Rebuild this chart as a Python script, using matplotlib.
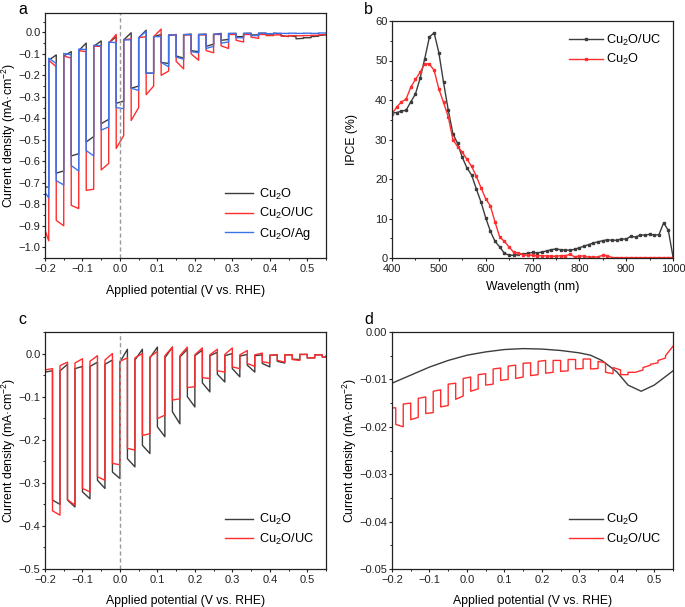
import numpy as np
import matplotlib
matplotlib.use("Agg")
import matplotlib.pyplot as plt
from matplotlib.ticker import MultipleLocator, FuncFormatter

plt.rcParams['font.family'] = ['Liberation Sans', 'DejaVu Sans']
plt.rcParams['mathtext.fontset'] = 'custom'
plt.rcParams['mathtext.rm'] = 'Liberation Sans'
plt.rcParams['mathtext.it'] = 'Liberation Sans:italic'
plt.rcParams['mathtext.default'] = 'regular'

C_BLACK = '#3c3c3c'
C_RED = '#ff2d2d'
C_BLUE = '#3f72ea'

# ---------------- Panel a: chopped LSV (Cu2O, Cu2O/UC, Cu2O/Ag) ----------------
a_chop_on = [-0.21, -0.17, -0.13, -0.09, -0.05, -0.01, 0.03, 0.07, 0.11, 0.15,
             0.19, 0.23, 0.27, 0.31, 0.35, 0.39, 0.43, 0.47, 0.51]
a_cu2o_light_s = [-0.72, -0.655, -0.575, -0.51, -0.425, -0.33, -0.26, -0.19, -0.14, -0.11,
                  -0.085, -0.065, -0.037, -0.02, -0.012, -0.008, -0.015, -0.03, -0.02]
a_cu2o_light_e = [-0.72, -0.645, -0.565, -0.485, -0.405, -0.32, -0.25, -0.19, -0.145, -0.12,
                  -0.09, -0.055, -0.033, -0.02, -0.012, -0.008, -0.02, -0.028, -0.018]
a_cu2o_dark_s = [-0.13, -0.11, -0.085, -0.065, -0.05, -0.035, -0.025, -0.02, -0.015, -0.012,
                 -0.01, -0.01, -0.006, -0.005, -0.004, -0.004, -0.015, -0.025, -0.015]
a_cu2o_dark_e = [-0.105, -0.09, -0.05, -0.04, -0.02, -0.002, 0.01, -0.01, -0.01, -0.008,
                 -0.008, -0.005, -0.005, -0.004, -0.004, -0.008, -0.02, -0.025, -0.012]

a_uc_light_s = [-0.92, -0.875, -0.805, -0.735, -0.64, -0.54, -0.41, -0.29, -0.2, -0.135,
                -0.1, -0.085, -0.063, -0.037, -0.022, -0.015, -0.018, -0.016, -0.014]
a_uc_light_e = [-0.97, -0.9, -0.82, -0.73, -0.61, -0.48, -0.35, -0.25, -0.18, -0.17,
                -0.13, -0.095, -0.075, -0.045, -0.028, -0.015, -0.018, -0.016, -0.014]
a_uc_dark_s = [-0.13, -0.11, -0.085, -0.065, -0.05, -0.035, -0.025, -0.02, -0.012, -0.012,
               -0.012, -0.01, -0.01, -0.01, -0.01, -0.012, -0.015, -0.015, -0.012]
a_uc_dark_e = [-0.16, -0.12, -0.09, -0.065, -0.01, -0.03, -0.02, 0.015, -0.012, -0.012,
               -0.012, -0.01, -0.01, -0.01, -0.01, -0.012, -0.015, -0.015, -0.01]

a_ag_light_s = [-0.745, -0.69, -0.62, -0.55, -0.455, -0.35, -0.26, -0.19, -0.14, -0.115,
                -0.09, -0.075, -0.05, -0.025, -0.015, -0.006, -0.005, -0.005, -0.005]
a_ag_light_e = [-0.77, -0.71, -0.645, -0.575, -0.44, -0.355, -0.27, -0.19, -0.16, -0.125,
                -0.095, -0.065, -0.045, -0.025, -0.015, -0.006, -0.005, -0.005, -0.005]
a_ag_dark_s = [-0.12, -0.098, -0.078, -0.06, -0.045, -0.035, -0.025, -0.02, -0.012, -0.01,
               -0.01, -0.008, -0.005, -0.005, -0.004, -0.004, -0.004, -0.004, -0.003]
a_ag_dark_e = [-0.145, -0.105, -0.08, -0.062, -0.048, -0.035, 0.005, -0.02, -0.012, -0.01,
               -0.01, -0.008, -0.005, -0.005, -0.004, -0.004, -0.004, -0.004, -0.003]

# ---------------- Panel b: IPCE ----------------
wavelength = list(range(400, 1001, 10))
ipce_uc = [36.8, 36.8, 37.2, 37.4, 39.5, 41.5, 45.5, 50.5, 56.0, 57.0,
           52.0, 44.5, 37.5, 31.5, 29.0, 25.5, 22.8, 21.0, 17.5, 14.2,
           10.2, 6.8, 4.2, 2.8, 1.2, 0.7, 0.7, 0.9, 1.0, 1.2,
           1.4, 1.3, 1.5, 1.8, 2.1, 2.3, 2.1, 2.0, 2.0, 2.2,
           2.6, 3.0, 3.4, 3.8, 4.1, 4.4, 4.6, 4.5, 4.5, 4.8,
           4.8, 5.5, 5.3, 5.8, 5.8, 6.0, 5.8, 5.9, 8.9, 7.0, 0.3]
ipce_cu2o = [36.5, 38.2, 39.5, 40.2, 43.2, 45.2, 47.0, 49.2, 49.1, 47.5,
             42.8, 39.4, 35.8, 30.0, 28.2, 26.8, 25.0, 23.2, 20.7, 17.8,
             15.0, 13.2, 9.1, 5.3, 4.2, 2.8, 1.4, 1.3, 0.8, 0.7,
             0.7, 0.6, 0.6, 0.5, 0.5, 0.4, 0.6, 0.6, 0.9, 0.3,
             0.5, 0.5, 0.2, 0.2, 0.3, 0.7, 0.6, 0.1, 0.1, 0.1,
             0.1, 0.1, 0.1, 0.1, 0.1, 0.1, 0.1, 0.1, 0.1, 0.1, 0.1]

# ---------------- Panel c: chopped LSV (Cu2O, Cu2O/UC) ----------------
c_chop_on = [-0.22, -0.18, -0.14, -0.10, -0.06, -0.02, 0.02, 0.06, 0.10, 0.14,
             0.18, 0.22, 0.26, 0.30, 0.34, 0.38, 0.42, 0.46, 0.50, 0.54]
c_cu2o_light_s = [-0.043, -0.34, -0.34, -0.321, -0.294, -0.275, -0.244, -0.213, -0.17, -0.135,
                  -0.10, -0.068, -0.048, -0.035, -0.027, -0.023, -0.018, -0.013, -0.01, -0.008]
c_cu2o_light_e = [-0.043, -0.35, -0.356, -0.337, -0.313, -0.29, -0.263, -0.232, -0.193, -0.163,
                  -0.124, -0.089, -0.066, -0.054, -0.043, -0.031, -0.022, -0.014, -0.01, -0.008]
c_cu2o_dark_s = [-0.043, -0.04, -0.035, -0.03, -0.025, -0.02, -0.015, -0.01, -0.01, -0.008,
                 -0.005, -0.005, -0.005, -0.006, -0.005, -0.004, -0.003, -0.002, -0.003, -0.006]
c_cu2o_dark_e = [-0.04, -0.025, -0.03, -0.02, -0.015, 0.01, 0.01, 0.015, 0.015, 0.01,
                 0.008, 0.003, 0.0, -0.002, -0.003, -0.003, -0.003, -0.002, -0.003, -0.006]

c_uc_light_s = [-0.41, -0.365, -0.339, -0.313, -0.286, -0.255, -0.22, -0.19, -0.151, -0.108,
                -0.079, -0.056, -0.04, -0.031, -0.023, -0.019, -0.016, -0.014, -0.01, -0.008]
c_uc_light_e = [-0.41, -0.375, -0.352, -0.321, -0.294, -0.258, -0.224, -0.186, -0.143, -0.105,
                -0.077, -0.058, -0.043, -0.035, -0.03, -0.022, -0.02, -0.016, -0.01, -0.008]
c_uc_dark_s = [-0.038, -0.028, -0.022, -0.018, -0.015, -0.018, -0.01, -0.008, -0.005, -0.005,
               -0.003, -0.003, -0.002, -0.003, -0.003, -0.004, -0.003, -0.002, -0.003, -0.006]
c_uc_dark_e = [-0.035, -0.02, -0.012, -0.005, 0.0, -0.01, 0.0, 0.005, 0.015, 0.015,
               0.013, 0.01, 0.013, 0.007, 0.001, -0.003, -0.003, -0.002, -0.003, -0.006]

# ---------------- Panel d: dark LSV / weak chopping ----------------
d_cu2o_v = [-0.2, -0.15, -0.1, -0.05, 0.0, 0.05, 0.1, 0.15, 0.2, 0.25,
            0.3, 0.33, 0.36, 0.4, 0.43, 0.465, 0.5, 0.55]
d_cu2o_j = [-0.0108, -0.0091, -0.0074, -0.0060, -0.0049, -0.0042, -0.0037, -0.0035, -0.0036, -0.0039,
            -0.0044, -0.0049, -0.0060, -0.0084, -0.0112, -0.0125, -0.0112, -0.0082]

d_chop_on = [-0.23, -0.19, -0.15, -0.11, -0.07, -0.03, 0.01, 0.05, 0.09, 0.13, 0.17,
             0.21, 0.25, 0.29, 0.33, 0.37, 0.41, 0.45, 0.49, 0.53]
d_uc_light_s = [-0.0160, -0.0195, -0.0185, -0.0172, -0.0158, -0.0142, -0.0125, -0.0112, -0.0102, -0.0098,
                -0.0092, -0.0087, -0.0083, -0.0078, -0.0078, -0.0085, -0.0090, -0.0085, -0.0068, -0.0050]
d_uc_light_e = [-0.0160, -0.0200, -0.0180, -0.0170, -0.0155, -0.0135, -0.0120, -0.0110, -0.0100, -0.0095,
                -0.0090, -0.0085, -0.0082, -0.0077, -0.0077, -0.0088, -0.0090, -0.0080, -0.0065, -0.0030]
d_uc_dark_s = [-0.0160, -0.0152, -0.0140, -0.0125, -0.0110, -0.0098, -0.0090, -0.0078, -0.0072, -0.0066,
               -0.0062, -0.0060, -0.0058, -0.0057, -0.0062, -0.0075, -0.0085, -0.0075, -0.0060, -0.0030]
d_uc_dark_e = [-0.0160, -0.0150, -0.0137, -0.0122, -0.0108, -0.0095, -0.0088, -0.0076, -0.0070, -0.0065,
               -0.0060, -0.0060, -0.0058, -0.0057, -0.0065, -0.0080, -0.0085, -0.0070, -0.0055, -0.0030]

XMIN, XMAX = -0.2, 0.55


def chopped(on_list, ls, le, ds, de, width=0.02, period=0.04):
    xs, ys = [], []
    for k, on in enumerate(on_list):
        x_on = min(max(on, XMIN), XMAX)
        x_off = min(max(on + width, XMIN), XMAX)
        x_next = min(max(on + period, XMIN), XMAX)
        xs += [x_on, x_off, x_off, x_next]
        ys += [ls[k], le[k], ds[k], de[k]]
    return np.array(xs), np.array(ys)


fig = plt.figure(figsize=(6.85, 6.07), dpi=100)
W, H = 685.0, 607.0


def ax_at(l, t, r, b):
    return fig.add_axes([l / W, 1 - b / H, (r - l) / W, (b - t) / H])


ax_a = ax_at(45, 13, 326, 258)
ax_b = ax_at(392, 21, 673, 258)
ax_c = ax_at(45, 332, 326, 569)
ax_d = ax_at(392, 332, 673, 569)

LW = 1.0
FS_TICK = 8
FS_LAB = 8.8
FS_LEG = 9.2


def fmt(dec):
    def f(v, p):
        if abs(v) < 1e-9:
            v = 0.0
        return ('{:.%df}' % dec).format(v).replace('-', '\u2212')
    return FuncFormatter(f)


def style(ax):
    for sp in ax.spines.values():
        sp.set_linewidth(0.9)
        sp.set_color('#222222')
    ax.tick_params(which='both', direction='out', top=False, right=False,
                   labelsize=FS_TICK, colors='#222222')
    ax.tick_params(which='major', length=2.3, width=0.8)
    ax.tick_params(which='minor', length=1.3, width=0.7)
    ax.tick_params(axis='y', which='major', pad=1.0)
    ax.tick_params(axis='x', which='major', pad=2.0)


def place_labels(ax, left_px, ylab_x_px, xlab_y_px, top_px, bottom_px):
    wpx = 281.0
    hpx = bottom_px - top_px
    ax.yaxis.set_label_coords((ylab_x_px - left_px) / wpx, 0.5)
    ax.xaxis.set_label_coords(0.5, -(xlab_y_px - bottom_px) / hpx)
    ax.yaxis.label.set_va('center')
    ax.xaxis.label.set_va('center')


def volt_axes(ax, ylo, yhi, ymaj, ymin, ydec):
    ax.set_xlim(XMIN, XMAX)
    ax.set_ylim(ylo, yhi)
    ax.xaxis.set_major_locator(MultipleLocator(0.1))
    ax.xaxis.set_minor_locator(MultipleLocator(0.05))
    ax.yaxis.set_major_locator(MultipleLocator(ymaj))
    ax.yaxis.set_minor_locator(MultipleLocator(ymin))
    ax.xaxis.set_major_formatter(fmt(1))
    ax.yaxis.set_major_formatter(fmt(ydec))
    style(ax)
    ax.set_xlabel('Applied potential (V vs. RHE)', fontsize=FS_LAB)
    ax.set_ylabel('Current density (mA·cm$^{-2}$)', fontsize=FS_LAB)


# panel a
for (ls, le, ds, de, col, lab) in [
        (a_cu2o_light_s, a_cu2o_light_e, a_cu2o_dark_s, a_cu2o_dark_e, C_BLACK, 'Cu$_2$O'),
        (a_uc_light_s, a_uc_light_e, a_uc_dark_s, a_uc_dark_e, C_RED, 'Cu$_2$O/UC'),
        (a_ag_light_s, a_ag_light_e, a_ag_dark_s, a_ag_dark_e, C_BLUE, 'Cu$_2$O/Ag')]:
    x, y = chopped(a_chop_on, ls, le, ds, de)
    ax_a.plot(x, y, color=col, lw=LW, label=lab)
ax_a.axvline(0, color='#999999', lw=1.0, ls=(0, (3, 2)))
volt_axes(ax_a, -1.05, 0.09, 0.1, 0.05, 1)
place_labels(ax_a, 45, 9, 291, 13, 258)
ax_a.legend(loc='lower right', frameon=False, fontsize=FS_LEG, handlelength=2.2,
            handletextpad=0.5, labelspacing=0.35, bbox_to_anchor=(1.0, 0.02))

# panel b
ax_b.plot(wavelength, ipce_uc, color=C_BLACK, lw=LW, marker='s', ms=1.6, label='Cu$_2$O/UC')
ax_b.plot(wavelength, ipce_cu2o, color=C_RED, lw=LW, marker='s', ms=1.6, label='Cu$_2$O')
ax_b.set_xlim(400, 1000)
ax_b.set_ylim(0, 60)
ax_b.xaxis.set_major_locator(MultipleLocator(100))
ax_b.xaxis.set_minor_locator(MultipleLocator(50))
ax_b.yaxis.set_major_locator(MultipleLocator(10))
ax_b.yaxis.set_minor_locator(MultipleLocator(5))
style(ax_b)
ax_b.set_xlabel('Wavelength (nm)', fontsize=FS_LAB)
ax_b.set_ylabel('IPCE (%)', fontsize=FS_LAB)
place_labels(ax_b, 392, 352, 287, 21, 258)
ax_b.legend(loc='upper right', frameon=False, fontsize=FS_LEG, handlelength=2.6,
            handletextpad=0.3, labelspacing=0.35, bbox_to_anchor=(1.0, 1.0))

# panel c
for (ls, le, ds, de, col, lab) in [
        (c_cu2o_light_s, c_cu2o_light_e, c_cu2o_dark_s, c_cu2o_dark_e, C_BLACK, 'Cu$_2$O'),
        (c_uc_light_s, c_uc_light_e, c_uc_dark_s, c_uc_dark_e, C_RED, 'Cu$_2$O/UC')]:
    x, y = chopped(c_chop_on, ls, le, ds, de)
    ax_c.plot(x, y, color=col, lw=LW, label=lab)
ax_c.axvline(0, color='#999999', lw=1.0, ls=(0, (3, 2)))
volt_axes(ax_c, -0.5, 0.05, 0.1, 0.05, 1)
place_labels(ax_c, 45, 9, 601, 332, 569)
ax_c.legend(loc='lower right', frameon=False, fontsize=FS_LEG, handlelength=2.2,
            handletextpad=0.5, labelspacing=0.35, bbox_to_anchor=(1.0, 0.045))

# panel d
ax_d.plot(d_cu2o_v, d_cu2o_j, color=C_BLACK, lw=LW, label='Cu$_2$O')
x, y = chopped(d_chop_on, d_uc_light_s, d_uc_light_e, d_uc_dark_s, d_uc_dark_e)
ax_d.plot(x, y, color=C_RED, lw=LW, label='Cu$_2$O/UC')
volt_axes(ax_d, -0.05, 0.0, 0.01, 0.005, 2)
place_labels(ax_d, 392, 350, 601, 332, 569)
ax_d.legend(loc='lower right', frameon=False, fontsize=FS_LEG, handlelength=2.6,
            handletextpad=0.3, labelspacing=0.35, bbox_to_anchor=(1.0, 0.045))

# panel letters
for txt, (px, py) in [('a', (18, 9)), ('b', (364, 9)), ('c', (18, 319)), ('d', (364, 319))]:
    fig.text(px / W, 1 - py / H, txt, fontsize=11.5, ha='left', va='center')

fig.savefig('out.png', dpi=100)
